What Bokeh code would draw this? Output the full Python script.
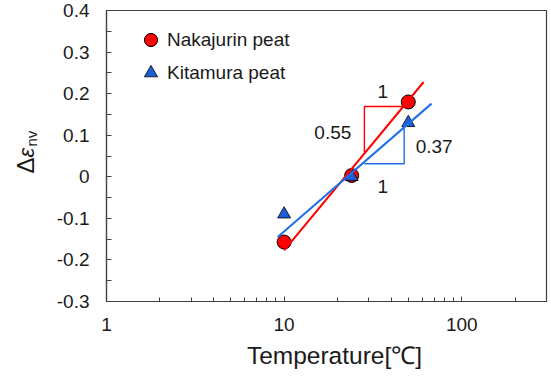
import math
from bokeh.plotting import figure
from bokeh.models import (Range1d, FixedTicker, LogTicker, Legend, LegendItem,
                          Label)
from bokeh.layouts import row, column
from bokeh.core.properties import value
from bokeh.embed import file_html
from bokeh.resources import INLINE

# ---- data ----
naka_T = [10, 24, 50]
naka_de = [-0.157, 0.003, 0.180]
kita_T = [10, 24, 50]
kita_de = [-0.090, 0.000, 0.130]

# regression lines (end points)
naka_fit_T = [10.0, 61.0]
naka_fit_de = [-0.177, 0.228]
kita_fit_T = [9.2, 67.6]
kita_fit_de = [-0.145, 0.176]

# slope triangles
naka_tri_T = [28.3, 28.3, 48.9]
naka_tri_de = [0.059, 0.169, 0.169]
kita_tri_T = [28.3, 47.4, 47.4]
kita_tri_de = [0.0315, 0.0315, 0.128]

# slope annotation texts
ann_text = ["1", "0.55", "0.37", "1"]
ann_T = [35.9, 18.8, 69.9, 35.9]
ann_de = [0.204, 0.1075, 0.073, -0.023]

y_ticks = [-0.3, -0.2, -0.1, 0.0, 0.1, 0.2, 0.3, 0.4]
y_tick_labels = ["-0.3", "-0.2", "-0.1", "0", "0.1", "0.2", "0.3", "0.4"]
y_minor = [-0.25, -0.15, -0.05, 0.05, 0.15, 0.25, 0.35]

FONT = "Liberation Sans"
TXT = "#1a1a1a"
AX = "#404040"
RED = "#ff0000"
BLUE = "#1f6fe6"
TRI_BLUE = "#1a5fd8"

LEFT_W = 53
MAIN_H = 339
TOTAL_W = 551
TOTAL_H = 378
B_TOP, B_BOT = 10, 38
B_LEFT, B_RIGHT = 105, 5


def helper_fig(w, h, **borders):
    f = figure(width=w, height=h, x_range=Range1d(0, 1), y_range=Range1d(0, 1),
               output_backend="svg", toolbar_location=None, title=None,
               x_axis_location=None, y_axis_location=None, **borders)
    f.grid.visible = False
    f.outline_line_color = None
    return f


# ---- main plot ----
p = figure(width=TOTAL_W - LEFT_W, height=MAIN_H, x_axis_type="log",
           x_range=Range1d(1, 300), y_range=Range1d(-0.3, 0.4),
           output_backend="svg", toolbar_location=None, title=None,
           min_border_left=B_LEFT - LEFT_W, min_border_right=B_RIGHT,
           min_border_top=B_TOP, min_border_bottom=B_BOT)

p.grid.visible = False
p.outline_line_color = AX
p.outline_line_width = 1.2

for ax in (p.xaxis[0], p.yaxis[0]):
    ax.axis_line_color = AX
    ax.axis_line_width = 1.2
    ax.major_tick_line_color = AX
    ax.minor_tick_line_color = AX
    ax.major_tick_in = 5
    ax.major_tick_out = 0
    ax.minor_tick_in = 4
    ax.minor_tick_out = 0
    ax.major_label_text_font = FONT
    ax.major_label_text_font_size = "19px"
    ax.major_label_text_color = TXT

p.yaxis[0].ticker = FixedTicker(ticks=y_ticks, minor_ticks=y_minor)
p.yaxis[0].major_label_overrides = {t: s for t, s in zip(y_ticks, y_tick_labels)}
p.yaxis[0].major_label_standoff = 17
p.yaxis[0].minor_tick_in = 5

p.xaxis[0].ticker = LogTicker(mantissas=[1], num_minor_ticks=10)
p.xaxis[0].major_label_overrides = {1: "1", 10: "10", 100: "100"}
p.xaxis[0].major_label_standoff = 16

r_naka = p.scatter(naka_T, naka_de, marker="circle", size=14,
                   fill_color=RED, line_color="black", line_width=1.0)
r_kita = p.scatter(kita_T, kita_de, marker="triangle", size=13,
                   fill_color=TRI_BLUE, line_color="black", line_width=0.8)

p.line(naka_fit_T, naka_fit_de, line_color=RED, line_width=2)
p.line(kita_fit_T, kita_fit_de, line_color=BLUE, line_width=2)
p.line(naka_tri_T, naka_tri_de, line_color=RED, line_width=1.4)
p.line(kita_tri_T, kita_tri_de, line_color=BLUE, line_width=1.4)

p.text(x=ann_T, y=ann_de, text=ann_text, text_font=value(FONT),
       text_font_size="19px", text_align="center", text_baseline="middle",
       text_color=TXT)

legend = Legend(items=[LegendItem(label="Nakajurin peat", renderers=[r_naka]),
                       LegendItem(label="Kitamura peat", renderers=[r_kita])],
                location=(28, 212), orientation="vertical",
                glyph_width=33, glyph_height=33, label_height=33,
                label_standoff=-8, spacing=0, padding=0, margin=0,
                border_line_alpha=0, background_fill_alpha=0,
                label_text_font=FONT, label_text_font_size="19px",
                label_text_color=TXT)
p.add_layout(legend, "center")

# ---- y axis title: Δε_nv (rotated), frame aligned with main frame ----
yl = helper_fig(LEFT_W, MAIN_H, min_border_left=0, min_border_right=0,
                min_border_top=B_TOP, min_border_bottom=B_BOT)
yl.add_layout(Label(x=25, y=128, x_units="screen", y_units="screen",
                    text="Δ", angle=math.pi / 2, text_font=FONT,
                    text_font_size="24px", text_align="left",
                    text_baseline="middle", text_color=TXT))
yl.add_layout(Label(x=26, y=144, x_units="screen", y_units="screen",
                    text="ε", angle=math.pi / 2, text_font=FONT,
                    text_font_size="22px", text_font_style="italic",
                    text_align="left", text_baseline="middle",
                    text_color=TXT))
yl.add_layout(Label(x=31, y=155, x_units="screen", y_units="screen",
                    text="nv", angle=math.pi / 2, text_font=FONT,
                    text_font_size="15px", text_align="left",
                    text_baseline="middle", text_color=TXT))

# ---- x axis title, frame aligned horizontally with main frame ----
xl = helper_fig(TOTAL_W, TOTAL_H - MAIN_H, min_border_left=B_LEFT,
                min_border_right=B_RIGHT, min_border_top=0, min_border_bottom=0)
xl.add_layout(Label(x=334 - B_LEFT, y=23, x_units="screen", y_units="screen",
                    text="Temperature[℃]", text_font=FONT,
                    text_font_size="24.5px", text_align="center",
                    text_baseline="middle", text_color=TXT))

layout = column(row(yl, p, spacing=0), xl, spacing=0)

open("out.html", "w").write(file_html(layout, INLINE))
